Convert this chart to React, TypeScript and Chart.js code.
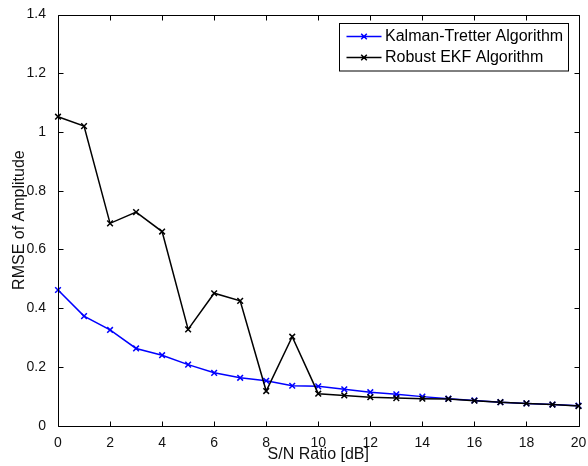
import React, { useEffect, useRef } from "react";
import { Chart, registerables } from "chart.js";

Chart.register(...registerables);

const snr = [0, 1, 2, 3, 4, 5, 6, 7, 8, 9, 10, 11, 12, 13, 14, 15, 16, 17, 18, 19, 20];
const kalmanTretter = [0.462, 0.373, 0.326, 0.263, 0.240, 0.208, 0.180, 0.163, 0.153, 0.136, 0.134, 0.124, 0.114, 0.107, 0.099, 0.092, 0.086, 0.080, 0.076, 0.072, 0.068];
const robustEKF = [1.052, 1.020, 0.689, 0.727, 0.661, 0.328, 0.451, 0.425, 0.118, 0.303, 0.109, 0.103, 0.097, 0.094, 0.092, 0.091, 0.085, 0.080, 0.076, 0.072, 0.067];
const xTicks = [0, 2, 4, 6, 8, 10, 12, 14, 16, 18, 20];
const yTicks = [0, 0.2, 0.4, 0.6, 0.8, 1.0, 1.2, 1.4];
const yTickLabels = ["0", "0.2", "0.4", "0.6", "0.8", "1", "1.2", "1.4"];
const seriesLabels = ["Kalman-Tretter Algorithm", "Robust EKF Algorithm"];

const FONT = "'Liberation Sans', Arial, sans-serif";

const framePlugin = {
  id: "matlabFrame",
  afterDatasetsDraw(chart: any) {
    const { ctx, chartArea } = chart;
    const xs = chart.scales.x;
    const ys = chart.scales.y;
    const L = Math.round(chartArea.left) + 0.5;
    const R = Math.round(chartArea.right) + 0.5;
    const T = Math.round(chartArea.top) + 0.5;
    const B = Math.round(chartArea.bottom) + 0.5;
    const tl = 5;
    ctx.save();
    ctx.strokeStyle = "#000";
    ctx.lineWidth = 1;
    ctx.beginPath();
    ctx.rect(L, T, R - L, B - T);
    xTicks.forEach((v) => {
      const px = Math.round(xs.getPixelForValue(v)) + 0.5;
      ctx.moveTo(px, B);
      ctx.lineTo(px, B - tl);
      ctx.moveTo(px, T);
      ctx.lineTo(px, T + tl);
    });
    yTicks.forEach((v) => {
      const py = Math.round(ys.getPixelForValue(v)) + 0.5;
      ctx.moveTo(L, py);
      ctx.lineTo(L + tl, py);
      ctx.moveTo(R, py);
      ctx.lineTo(R - tl, py);
    });
    ctx.stroke();

    // legend
    ctx.font = "16px " + FONT;
    const widths = chart.data.datasets.map((d: any) => ctx.measureText(d.label).width);
    const tw = Math.max(...widths);
    const padL = 7;
    const lineLen = 35;
    const gap = 3.5;
    const padR = 5;
    const boxW = padL + lineLen + gap + tw + padR;
    const boxH = 47.5;
    const boxR = Math.round(chartArea.right - 11) + 0.5;
    const boxT = Math.round(chartArea.top + 8) + 0.5;
    const boxL = boxR - Math.round(boxW);
    ctx.fillStyle = "#fff";
    ctx.fillRect(boxL, boxT, boxR - boxL, boxH);
    ctx.strokeStyle = "#000";
    ctx.lineWidth = 1;
    ctx.strokeRect(boxL, boxT, boxR - boxL, boxH);
    const rows = [boxT + 13, boxT + 34];
    chart.data.datasets.forEach((d: any, i: number) => {
      const y = rows[i];
      const x0 = boxL + padL;
      ctx.strokeStyle = d.borderColor;
      ctx.lineWidth = 1.5;
      ctx.beginPath();
      ctx.moveTo(x0, y);
      ctx.lineTo(x0 + lineLen, y);
      const cx = x0 + lineLen / 2;
      const r = 2.8;
      ctx.moveTo(cx - r, y - r);
      ctx.lineTo(cx + r, y + r);
      ctx.moveTo(cx - r, y + r);
      ctx.lineTo(cx + r, y - r);
      ctx.stroke();
      ctx.fillStyle = "#000";
      ctx.textBaseline = "middle";
      ctx.textAlign = "left";
      ctx.fillText(d.label, x0 + lineLen + gap, y + 0.5);
    });
    ctx.restore();
  },
};

export default function App() {
  const ref = useRef<HTMLCanvasElement | null>(null);

  useEffect(() => {
    document.body.style.margin = "0";
    if (!ref.current) return;
    const chart = new Chart(ref.current, {
      type: "line",
      data: {
        labels: snr,
        datasets: [
          {
            label: seriesLabels[0],
            data: snr.map((x, i) => ({ x, y: kalmanTretter[i] })),
            borderColor: "#0000ff",
            backgroundColor: "#0000ff",
            borderWidth: 1.5,
            pointStyle: "crossRot",
            pointRadius: 4,
            pointBorderWidth: 1.5,
            pointBorderColor: "#0000ff",
            fill: false,
            tension: 0,
            clip: false as any,
            order: 1,
          },
          {
            label: seriesLabels[1],
            data: snr.map((x, i) => ({ x, y: robustEKF[i] })),
            borderColor: "#000000",
            backgroundColor: "#000000",
            borderWidth: 1.5,
            pointStyle: "crossRot",
            pointRadius: 4,
            pointBorderWidth: 1.5,
            pointBorderColor: "#000000",
            fill: false,
            tension: 0,
            clip: false as any,
            order: 0,
          },
        ],
      },
      options: {
        responsive: false,
        animation: false,
        layout: { padding: { top: 14.5, right: 9.5, left: 0, bottom: 0 } },
        plugins: {
          legend: { display: false },
          tooltip: { enabled: false },
        },
        scales: {
          x: {
            type: "linear",
            min: 0,
            max: 20,
            grid: { display: false },
            border: { display: false },
            afterBuildTicks: (s: any) => {
              s.ticks = xTicks.map((v) => ({ value: v }));
            },
            afterFit: (s: any) => {
              s.height = 40.3;
            },
            ticks: {
              padding: 1.5,
              maxRotation: 0,
              color: "#111",
              font: { family: FONT, size: 14 },
              callback: (v: any) => String(v),
            },
            title: {
              display: true,
              text: "S/N Ratio [dB]",
              color: "#111",
              font: { family: FONT, size: 16 },
              padding: { top: 0, bottom: 1.5 },
            },
          },
          y: {
            type: "linear",
            min: 0,
            max: 1.4,
            grid: { display: false },
            border: { display: false },
            afterBuildTicks: (s: any) => {
              s.ticks = yTicks.map((v) => ({ value: v }));
            },
            afterFit: (s: any) => {
              s.width = 58;
            },
            ticks: {
              padding: 4,
              color: "#111",
              font: { family: FONT, size: 14 },
              callback: (v: any) => {
                const i = yTicks.findIndex((t) => Math.abs(t - Number(v)) < 1e-6);
                return i >= 0 ? yTickLabels[i] : "";
              },
            },
            title: {
              display: true,
              text: "RMSE of Amplitude",
              color: "#111",
              font: { family: FONT, size: 16 },
              padding: { top: 10, bottom: 0 },
            },
          },
        },
      },
      plugins: [framePlugin],
    });
    return () => chart.destroy();
  }, []);

  return (
    <div style={{ width: 588, height: 466, background: "#fff" }}>
      <canvas ref={ref} width={588} height={466} style={{ display: "block" }} />
    </div>
  );
}
